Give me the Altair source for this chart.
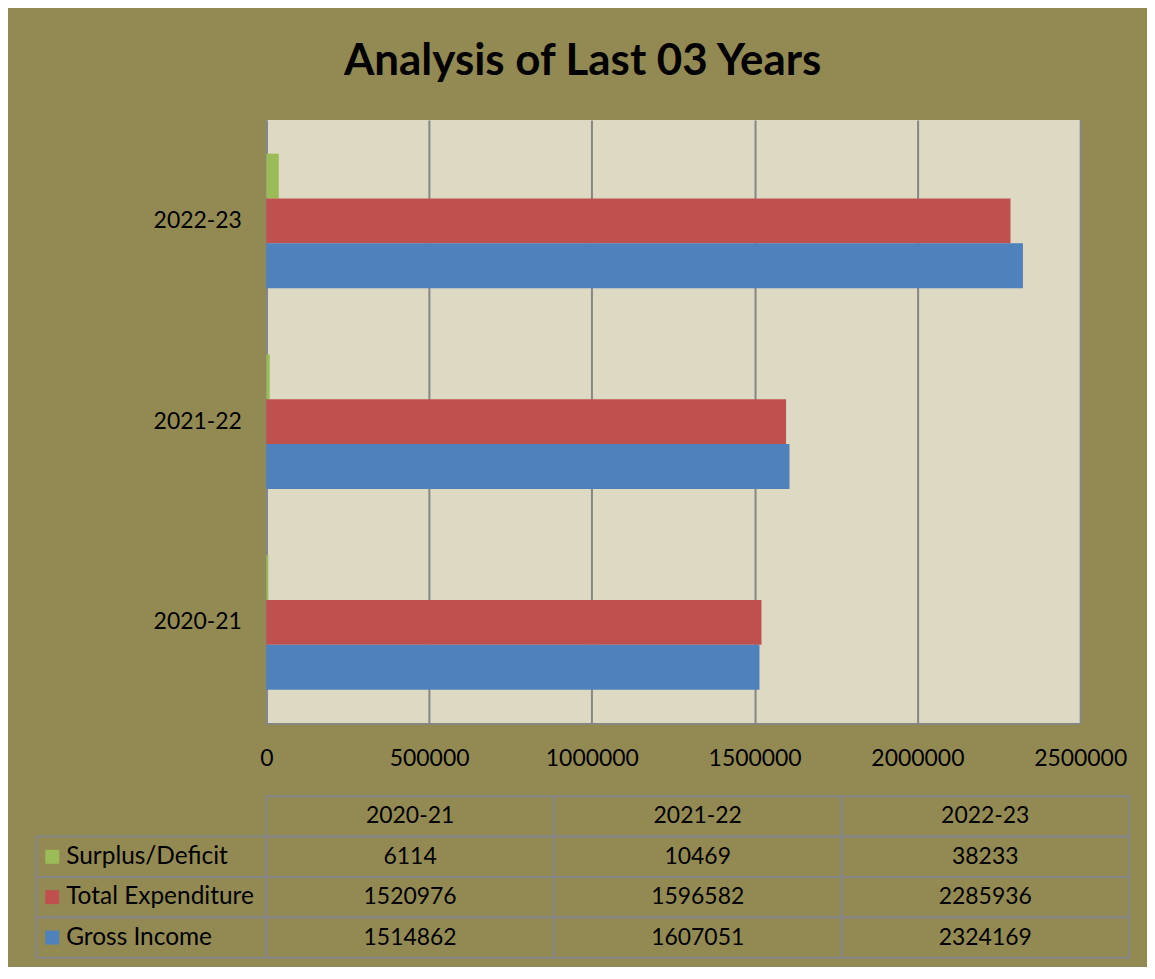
import altair as alt
import pandas as pd

# ---- data ----
years = ["2020-21", "2021-22", "2022-23"]
series = ["Surplus/Deficit", "Total Expenditure", "Gross Income"]
surplus = [6114, 10469, 38233]
expenditure = [1520976, 1596582, 2285936]
income = [1514862, 1607051, 2324169]
x_ticks = [0, 500000, 1000000, 1500000, 2000000, 2500000]
colors = ["#9BBB59", "#C0504D", "#4F81BD"]

FONT = "Lato"
GRID = "#868686"
BG = "#938A53"
PLOT_BG = "#DDD9C3"
LABEL_W = 0.8  # width of the label column, in table-column units

values = {"Surplus/Deficit": surplus, "Total Expenditure": expenditure, "Gross Income": income}
rows = []
for s in series:
    for i, y in enumerate(years):
        rows.append({"year": y, "series": s, "value": values[s][i]})
df = pd.DataFrame(rows)

color_scale = alt.Scale(domain=series, range=colors)

bars = alt.Chart(df).mark_bar().encode(
    y=alt.Y("year:N", sort=years[::-1],
            scale=alt.Scale(paddingInner=0.33, paddingOuter=0.168),
            axis=alt.Axis(title=None, ticks=False, labelFontSize=23, labelPadding=25,
                          domainColor=GRID, domainWidth=2, labelColor="black",
                          labelFont=FONT)),
    yOffset=alt.YOffset("series:N", sort=series),
    x=alt.X("value:Q", scale=alt.Scale(domain=[0, 2500000], nice=False, zero=True),
            axis=alt.Axis(values=x_ticks, format="d", title=None, ticks=False, grid=True,
                          gridColor=GRID, gridWidth=2, domainColor=GRID, domainWidth=2,
                          labelPadding=24, labelFontSize=23, labelColor="black",
                          labelFont=FONT, labelFlush=False)),
    color=alt.Color("series:N", scale=color_scale, legend=None),
).properties(width=816, height=605,
             view=alt.ViewBackground(fill=PLOT_BG, strokeWidth=0))

# ---- data table below the chart ----
row_domain = ["hdr"] + series
cells = []
for i, y in enumerate(years):
    cells.append({"row": "hdr", "x0": i, "x1": i + 1, "xm": i + 0.5, "txt": y})
for s in series:
    cells.append({"row": s, "x0": -LABEL_W, "x1": 0, "xm": -LABEL_W, "txt": ""})
    for i, y in enumerate(years):
        cells.append({"row": s, "x0": i, "x1": i + 1, "xm": i + 0.5, "txt": str(values[s][i])})
cdf = pd.DataFrame(cells)
ldf = pd.DataFrame({"row": series, "x0": [-LABEL_W] * 3, "series": series})

xs = alt.Scale(domain=[0, 3], nice=False, zero=False)
ys = alt.Scale(domain=row_domain, paddingInner=0, paddingOuter=0)

grid = alt.Chart(cdf).mark_rect(fillOpacity=0, stroke=GRID, strokeWidth=2).encode(
    x=alt.X("x0:Q", scale=xs, axis=None),
    x2="x1:Q",
    y=alt.Y("row:N", scale=ys, axis=None),
)
txt = alt.Chart(cdf).mark_text(fontSize=23, font=FONT, color="black").encode(
    x=alt.X("xm:Q", scale=xs, axis=None),
    y=alt.Y("row:N", scale=ys, axis=None),
    text="txt:N",
)
lab_sq = alt.Chart(ldf).mark_square(size=196, opacity=1, xOffset=16).encode(
    x=alt.X("x0:Q", scale=xs, axis=None),
    y=alt.Y("row:N", scale=ys, axis=None),
    color=alt.Color("series:N", scale=color_scale, legend=None),
)
lab_txt = alt.Chart(ldf).mark_text(fontSize=24.5, font=FONT, color="black", align="left", dx=30).encode(
    x=alt.X("x0:Q", scale=xs, axis=None),
    y=alt.Y("row:N", scale=ys, axis=None),
    text="series:N",
)
table = alt.layer(grid, txt, lab_sq, lab_txt).properties(
    width=865, height=162, view=alt.ViewBackground(strokeWidth=0))

chart = alt.vconcat(bars, table, spacing=25).properties(
    title=alt.TitleParams("Analysis of Last 03 Years", fontSize=44, fontWeight="bold",
                          font=FONT, color="black", anchor="middle", offset=36),
    padding={"left": 27, "top": 31, "right": 17, "bottom": 7},
).configure(background=BG, font=FONT).configure_view(strokeWidth=0)

chart.save("out.html", embed_options={"renderer": "svg", "actions": False})
